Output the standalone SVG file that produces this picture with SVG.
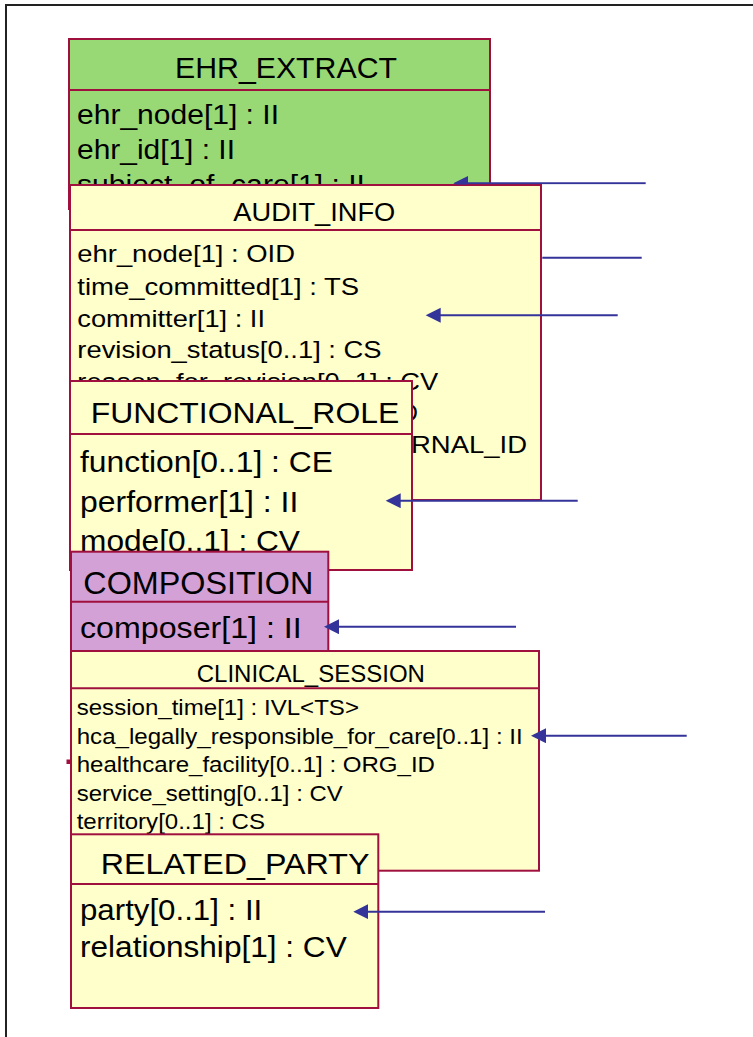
<svg xmlns="http://www.w3.org/2000/svg" width="753" height="1037" viewBox="0 0 753 1037">
  <style>
    .box { stroke: #A0103F; stroke-width: 2; }
    .div { stroke: #A0103F; stroke-width: 2; }
    .yellow { fill: #FFFFCC; }
    .green { fill: #99D975; }
    .violet { fill: #D3A1D5; }
    text { font-family: "Liberation Sans", Arial, sans-serif; fill: #000; }
    .conn { stroke: #33339A; stroke-width: 2; fill: none; }
  </style>
  <defs>
    <marker id="head" markerUnits="userSpaceOnUse" markerWidth="16" markerHeight="16" refX="12" refY="7.5" orient="auto">
      <path d="M0,0 L15,7.5 L0,15 Z" fill="#33339A"/>
    </marker>
    <clipPath id="aboveAudit">
      <rect x="0" y="0" width="753" height="184.5"/>
    </clipPath>
  </defs>

  <rect width="753" height="1037" fill="#fff"/>
  <!-- page frame -->
  <rect x="6" y="5" width="900" height="1200" fill="none" stroke="#222" stroke-width="2"/>

  <g id="ehr_extract">
    <rect class="box green" x="69" y="39" width="421" height="170"/>
    <line class="div" x1="69" y1="90" x2="490" y2="90"/>
    <text x="175" y="78" font-size="29" textLength="222" lengthAdjust="spacingAndGlyphs">EHR_EXTRACT</text>
    <text x="77" y="124" font-size="27" textLength="202" lengthAdjust="spacingAndGlyphs">ehr_node[1] : II</text>
    <text x="77" y="159" font-size="27" textLength="158" lengthAdjust="spacingAndGlyphs">ehr_id[1] : II</text>
    <text x="77" y="194" font-size="27" textLength="288" lengthAdjust="spacingAndGlyphs">subject_of_care[1] : II</text>
  </g>

  <g id="audit_info">
    <rect class="box yellow" x="70" y="185" width="471" height="315"/>
    <line class="div" x1="70" y1="230" x2="541" y2="230"/>
    <text x="233.3" y="220.7" font-size="25" textLength="162" lengthAdjust="spacingAndGlyphs">AUDIT_INFO</text>
    <text x="77.3" y="261.7" font-size="24.5" textLength="217.7" lengthAdjust="spacingAndGlyphs">ehr_node[1] : OID</text>
    <text x="77.3" y="295" font-size="24.5" textLength="281.7" lengthAdjust="spacingAndGlyphs">time_committed[1] : TS</text>
    <text x="77.3" y="326.7" font-size="24.5" textLength="187.7" lengthAdjust="spacingAndGlyphs">committer[1] : II</text>
    <text x="77.3" y="358.3" font-size="24.5" textLength="304.3" lengthAdjust="spacingAndGlyphs">revision_status[0..1] : CS</text>
    <text x="77.3" y="390" font-size="24.5" textLength="361" lengthAdjust="spacingAndGlyphs">reason_for_revision[0..1] : CV</text>
    <text x="418" y="421" font-size="24.5" text-anchor="end">D</text>
    <text x="411" y="453" font-size="24.5" textLength="116" lengthAdjust="spacingAndGlyphs">RNAL_ID</text>
  </g>

  <g id="functional_role">
    <rect class="box yellow" x="70" y="381" width="342" height="189"/>
    <line class="div" x1="70" y1="434" x2="412" y2="434"/>
    <text x="90.7" y="423.3" font-size="30" textLength="308.6" lengthAdjust="spacingAndGlyphs">FUNCTIONAL_ROLE</text>
    <text x="80" y="471.7" font-size="29.5" textLength="253" lengthAdjust="spacingAndGlyphs">function[0..1] : CE</text>
    <text x="80" y="511.7" font-size="29.5" textLength="218.3" lengthAdjust="spacingAndGlyphs">performer[1] : II</text>
    <text x="80" y="551" font-size="29.5" textLength="220" lengthAdjust="spacingAndGlyphs">mode[0..1] : CV</text>
  </g>

  <g id="composition">
    <rect class="box violet" x="71" y="551.7" width="257.3" height="110"/>
    <line class="div" x1="71" y1="601.7" x2="328.3" y2="601.7"/>
    <text x="83.3" y="594" font-size="31" textLength="230" lengthAdjust="spacingAndGlyphs">COMPOSITION</text>
    <text x="80" y="638.3" font-size="30" textLength="221.7" lengthAdjust="spacingAndGlyphs">composer[1] : II</text>
  </g>

  <g id="clinical_session">
    <rect x="66.5" y="759.5" width="4" height="4.5" fill="#A0103F"/>
    <rect class="box yellow" x="71" y="651" width="468" height="219.7"/>
    <line class="div" x1="71" y1="688.3" x2="539" y2="688.3"/>
    <text x="196.7" y="681.7" font-size="23" textLength="228.3" lengthAdjust="spacingAndGlyphs">CLINICAL_SESSION</text>
    <text x="76.7" y="715" font-size="22" textLength="282.3" lengthAdjust="spacingAndGlyphs">session_time[1] : IVL&lt;TS&gt;</text>
    <text x="76.7" y="744" font-size="22" textLength="446" lengthAdjust="spacingAndGlyphs">hca_legally_responsible_for_care[0..1] : II</text>
    <text x="76.7" y="772.3" font-size="22" textLength="358.3" lengthAdjust="spacingAndGlyphs">healthcare_facility[0..1] : ORG_ID</text>
    <text x="76.7" y="800.7" font-size="22" textLength="266" lengthAdjust="spacingAndGlyphs">service_setting[0..1] : CV</text>
    <text x="76.7" y="829" font-size="22" textLength="188.3" lengthAdjust="spacingAndGlyphs">territory[0..1] : CS</text>
  </g>

  <g id="related_party">
    <rect class="box yellow" x="71" y="834.3" width="307.3" height="173.7"/>
    <line class="div" x1="71" y1="884" x2="378.3" y2="884"/>
    <text x="100.7" y="874.3" font-size="29" textLength="268.7" lengthAdjust="spacingAndGlyphs">RELATED_PARTY</text>
    <text x="80" y="920" font-size="29.5" textLength="182.3" lengthAdjust="spacingAndGlyphs">party[0..1] : II</text>
    <text x="80" y="956.7" font-size="29.5" textLength="266.7" lengthAdjust="spacingAndGlyphs">relationship[1] : CV</text>
  </g>

  <g id="connectors">
    <g clip-path="url(#aboveAudit)">
      <line class="conn" x1="645.7" y1="183.3" x2="456.3" y2="183.3" marker-end="url(#head)"/>
    </g>
    <line class="conn" x1="542.3" y1="257.7" x2="641.7" y2="257.7"/>
    <line class="conn" x1="617.7" y1="315.3" x2="428.7" y2="315.3" marker-end="url(#head)"/>
    <line class="conn" x1="577.7" y1="500.7" x2="388.7" y2="500.7" marker-end="url(#head)"/>
    <line class="conn" x1="516" y1="626.7" x2="327" y2="626.7" marker-end="url(#head)"/>
    <line class="conn" x1="686.7" y1="735.7" x2="534" y2="735.7" marker-end="url(#head)"/>
    <line class="conn" x1="545" y1="911.7" x2="356.3" y2="911.7" marker-end="url(#head)"/>
  </g>
</svg>
